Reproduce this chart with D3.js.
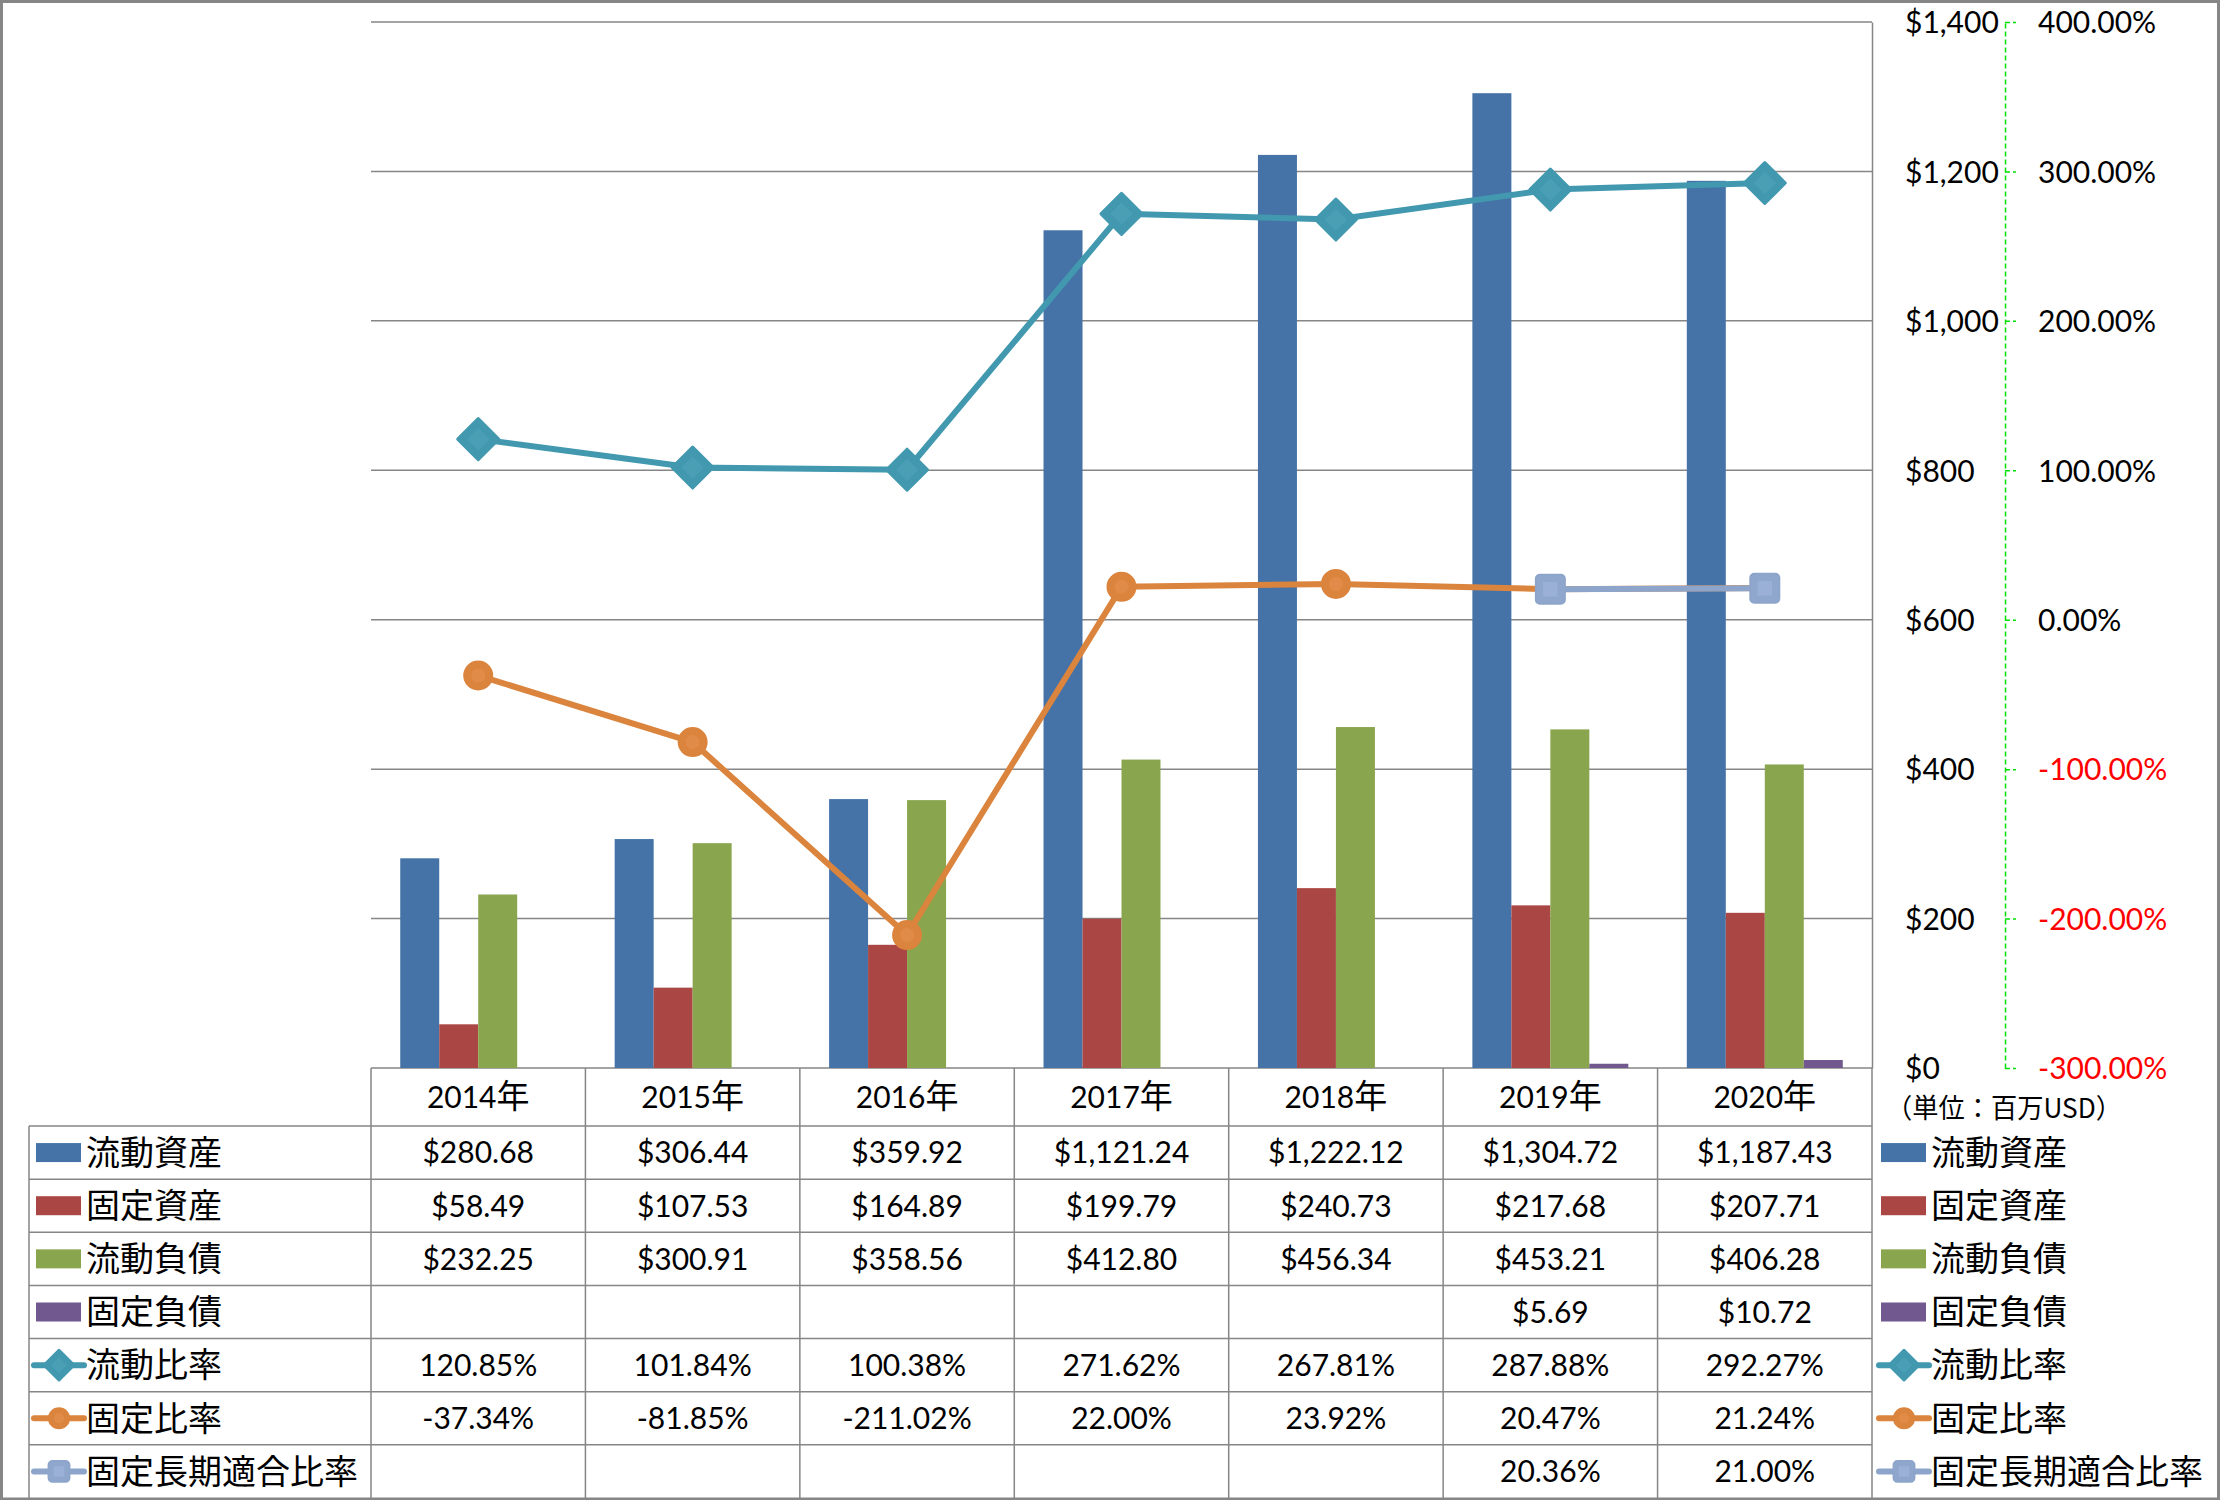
<!DOCTYPE html>
<html>
<head>
<meta charset="utf-8">
<script src="https://cdn.jsdelivr.net/npm/d3@7"></script>
<style>
  html, body { margin: 0; padding: 0; background: #fff; }
  svg { display: block; }
  text { font-family: Lato, "Noto Sans CJK JP", sans-serif; }
  .cjk { font-family: "Noto Sans CJK JP", sans-serif; }
</style>
</head>
<body>
<svg id="chart" width="2221" height="1500"></svg>
<script>
// ---------------- data ----------------
const years = ["2014", "2015", "2016", "2017", "2018", "2019", "2020"];
const yearSuffix = "年";
const currentAssets = [280.68, 306.44, 359.92, 1121.24, 1222.12, 1304.72, 1187.43];
const fixedAssets = [58.49, 107.53, 164.89, 199.79, 240.73, 217.68, 207.71];
const currentLiabilities = [232.25, 300.91, 358.56, 412.80, 456.34, 453.21, 406.28];
const fixedLiabilities = [null, null, null, null, null, 5.69, 10.72];
const currentRatio = [120.85, 101.84, 100.38, 271.62, 267.81, 287.88, 292.27];
const fixedRatio = [-37.34, -81.85, -211.02, 22.00, 23.92, 20.47, 21.24];
const fixedLongTermRatio = [null, null, null, null, null, 20.36, 21.00];
const moneyTicks = [0, 200, 400, 600, 800, 1000, 1200, 1400];
const percentTicks = [-300, -200, -100, 0, 100, 200, 300, 400];
const unitLabel = "（単位：百万USD）";

const barSeries = [
  { name: "流動資産", values: currentAssets },
  { name: "固定資産", values: fixedAssets },
  { name: "流動負債", values: currentLiabilities },
  { name: "固定負債", values: fixedLiabilities }
];
const lineSeries = [
  { name: "流動比率", values: currentRatio, marker: "diamond" },
  { name: "固定比率", values: fixedRatio, marker: "circle" },
  { name: "固定長期適合比率", values: fixedLongTermRatio, marker: "square" }
];

// ---------------- styles ----------------
const barColors = { "流動資産": "#4572A7", "固定資産": "#AA4643", "流動負債": "#89A54E", "固定負債": "#71588F" };
const lineColors = {
  "流動比率": { line: "#4198AF", fill: "#4198AF", inner: "#4A9FB5" },
  "固定比率": { line: "#DB843D", fill: "#DB843D", inner: "#E08C48" },
  "固定長期適合比率": { line: "#8EA5CB", fill: "#8FA6CD", inner: "#9AB0D6" }
};
const gridColor = "#868686";

const loc = d3.formatLocale({ decimal: ".", thousands: ",", grouping: [3], currency: ["$", ""], minus: "-" });
const fmtMoney = loc.format("$,.2f");
const fmtTick = loc.format("$,");
const fmtPct = v => loc.format(".2f")(v) + "%";

// ---------------- layout ----------------
const W = 2221, H = 1500;
const plotLeft = 371, plotRight = 1872, plotTop = 22, plotBottom = 1068;
const tableLeft = 29, headerBottom = 1126, tableBottom = 1498;
const rowH = (tableBottom - headerBottom) / 7;

const svg = d3.select("#chart");

const x0 = d3.scaleBand().domain(years).range([plotLeft, plotRight]).paddingInner(0).paddingOuter(0);
const x1 = d3.scaleBand().domain(barSeries.map(s => s.name)).range([0, x0.bandwidth()]).paddingInner(0).paddingOuter(0.75);
const y = d3.scaleLinear().domain([0, 1400]).range([plotBottom, plotTop]);
const y2 = d3.scaleLinear().domain([-300, 400]).range([plotBottom, plotTop]);
const cx = i => x0(years[i]) + x0.bandwidth() / 2;

// background
svg.append("rect").attr("x", 0).attr("y", 0).attr("width", W).attr("height", H).attr("fill", "#fff");

// gridlines
svg.append("g").selectAll("line").data(moneyTicks).join("line")
  .attr("x1", plotLeft).attr("x2", plotRight)
  .attr("y1", d => y(d)).attr("y2", d => y(d))
  .attr("stroke", gridColor).attr("stroke-width", 1.5);

// bars
const barG = svg.append("g");
barSeries.forEach(s => {
  barG.append("g").selectAll("rect")
    .data(s.values.map((v, i) => ({ v, i })).filter(d => d.v != null))
    .join("rect")
    .attr("x", d => x0(years[d.i]) + x1(s.name))
    .attr("width", x1.bandwidth())
    .attr("y", d => y(d.v))
    .attr("height", d => y(0) - y(d.v))
    .attr("fill", barColors[s.name]);
});

// primary axis (right side of plot)
const axisL = svg.append("g").attr("transform", `translate(${plotRight},0)`)
  .call(d3.axisRight(y).tickValues(moneyTicks).tickFormat(fmtTick).tickSize(0).tickSizeOuter(0).tickPadding(33));
axisL.select(".domain").attr("stroke", gridColor).attr("stroke-width", 1.5);
axisL.selectAll("text").attr("font-size", 30).attr("font-family", "Lato").style("fill", "#000").attr("dy", "0.36em");

// secondary axis (green dashed)
const axisR = svg.append("g").attr("transform", "translate(2005,0)")
  .call(d3.axisRight(y2).tickValues(percentTicks).tickFormat(fmtPct).tickSize(11).tickSizeOuter(0).tickPadding(22));
axisR.select(".domain").attr("stroke", "#00E000").attr("stroke-width", 1.5).attr("stroke-dasharray", "5,3");
axisR.selectAll(".tick line").attr("stroke", "#00E000").attr("stroke-width", 1.5).attr("stroke-dasharray", "5,3");
axisR.selectAll("text").attr("font-size", 30).attr("font-family", "Lato").attr("dy", "0.36em")
  .style("fill", d => d < 0 ? "#FF0000" : "#000");

// marker drawing
function drawMarker(g, type, colors, scale) {
  if (type === "diamond") {
    const s = 29 * scale;
    g.append("path").attr("d", d3.symbol(d3.symbolSquare, s * s)()).attr("transform", "rotate(45)")
      .attr("fill", colors.fill).attr("stroke", colors.line).attr("stroke-width", 3).attr("stroke-linejoin", "round");
    const si = s * 0.55;
    g.append("path").attr("d", d3.symbol(d3.symbolSquare, si * si)()).attr("transform", "rotate(45)")
      .attr("fill", colors.inner);
  } else if (type === "circle") {
    const r = 14 * scale;
    g.append("circle").attr("r", r).attr("fill", colors.fill).attr("stroke", colors.line).attr("stroke-width", 2);
    g.append("circle").attr("r", r * 0.5).attr("fill", colors.inner);
  } else {
    const s = 29 * scale;
    g.append("rect").attr("x", -s / 2).attr("y", -s / 2).attr("width", s).attr("height", s).attr("rx", 4)
      .attr("fill", colors.fill).attr("stroke", colors.line).attr("stroke-width", 2);
    const si = s * 0.5;
    g.append("rect").attr("x", -si / 2).attr("y", -si / 2).attr("width", si).attr("height", si)
      .attr("fill", colors.inner);
  }
}

// lines
const lineGen = d3.line().defined(d => d.v != null).x(d => cx(d.i)).y(d => y2(d.v));
lineSeries.forEach(s => {
  const pts = s.values.map((v, i) => ({ v, i }));
  const c = lineColors[s.name];
  const g = svg.append("g");
  g.append("path").datum(pts).attr("d", lineGen).attr("fill", "none")
    .attr("stroke", c.line).attr("stroke-width", 6).attr("stroke-linejoin", "round").attr("stroke-linecap", "round");
  pts.filter(d => d.v != null).forEach(d => {
    const mg = g.append("g").attr("transform", `translate(${cx(d.i)},${y2(d.v)})`);
    drawMarker(mg, s.marker, c, 1);
  });
});

// ---------------- table ----------------
const tbl = svg.append("g");
const lineAttrs = sel => sel.attr("stroke", gridColor).attr("stroke-width", 1.5);
const rowLines = d3.range(0, 7).map(k => headerBottom + k * rowH);
tbl.selectAll("line.h").data(rowLines).join("line").attr("class", "h")
  .attr("x1", tableLeft).attr("x2", plotRight).attr("y1", d => d).attr("y2", d => d).call(lineAttrs);
tbl.append("line").attr("x1", tableLeft).attr("x2", tableLeft).attr("y1", headerBottom).attr("y2", tableBottom).call(lineAttrs);
const colEdges = years.map(yr => x0(yr)).concat([plotRight]);
tbl.selectAll("line.v").data(colEdges).join("line").attr("class", "v")
  .attr("x1", d => d).attr("x2", d => d).attr("y1", plotBottom).attr("y2", tableBottom).call(lineAttrs);

// header
years.forEach((yr, i) => {
  const t = tbl.append("text").attr("x", cx(i)).attr("y", (plotBottom + headerBottom) / 2)
    .attr("dy", "0.36em").attr("text-anchor", "middle").attr("font-size", 30).style("fill", "#000");
  t.append("tspan").text(yr);
  t.append("tspan").attr("class", "cjk").attr("font-size", 33).text(yearSuffix);
});

// rows
const rows = [
  ...barSeries.map(s => ({ name: s.name, values: s.values, fmt: fmtMoney, kind: "bar" })),
  ...lineSeries.map(s => ({ name: s.name, values: s.values, fmt: fmtPct, kind: "line", marker: s.marker }))
];
rows.forEach((r, k) => {
  const yc = headerBottom + k * rowH + rowH / 2;
  r.values.forEach((v, i) => {
    if (v == null) return;
    tbl.append("text").attr("x", cx(i)).attr("y", yc).attr("dy", "0.36em")
      .attr("text-anchor", "middle").attr("font-size", 30).style("fill", "#000").text(r.fmt(v));
  });
  [{ kx: 36, tx: 86 }, { kx: 1881, tx: 1931 }].forEach(pos => {
    const g = svg.append("g");
    if (r.kind === "bar") {
      g.append("rect").attr("x", pos.kx).attr("y", yc - 9.5).attr("width", 45).attr("height", 19)
        .attr("fill", barColors[r.name]);
    } else {
      const c = lineColors[r.name];
      g.append("line").attr("x1", pos.kx - 2).attr("x2", pos.kx + 48).attr("y1", yc).attr("y2", yc)
        .attr("stroke", c.line).attr("stroke-width", 6).attr("stroke-linecap", "round");
      const mg = g.append("g").attr("transform", `translate(${pos.kx + 23},${yc})`);
      drawMarker(mg, r.marker, c, 0.72);
    }
    g.append("text").attr("class", "cjk").attr("x", pos.tx).attr("y", yc).attr("dy", "0.36em")
      .attr("font-size", 34).style("fill", "#000").text(r.name);
  });
});

// unit label
svg.append("text").attr("class", "cjk").attr("x", 1886).attr("y", 1108).attr("dy", "0.36em")
  .attr("font-size", 27).attr("textLength", 236).attr("lengthAdjust", "spacingAndGlyphs")
  .style("fill", "#000").text(unitLabel);

// outer border
svg.append("rect").attr("x", 1.5).attr("y", 1.5).attr("width", W - 4).attr("height", tableBottom - 0.5)
  .attr("fill", "none").attr("stroke", gridColor).attr("stroke-width", 3);
</script>
</body>
</html>
